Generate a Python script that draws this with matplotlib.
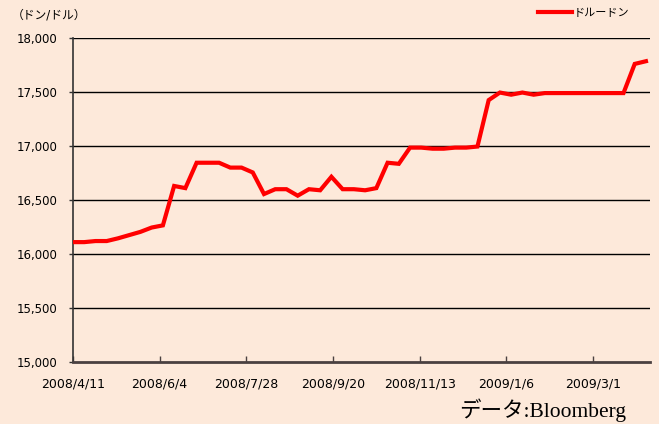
import matplotlib
matplotlib.use("Agg")
import matplotlib.pyplot as plt
import numpy as np
import datetime as dt

plt.rcParams['font.family'] = ['DejaVu Sans', 'Noto Sans CJK JP']

# weekly VND/USD rate from 2008/4/11
start = dt.date(2008, 4, 11)
rates = [16110, 16110, 16120, 16120, 16145, 16175, 16205, 16245, 16265, 16630,
         16610, 16845, 16845, 16845, 16800, 16800, 16755, 16555, 16600, 16600,
         16540, 16600, 16590, 16715, 16600, 16600, 16590, 16610, 16845, 16835,
         16985, 16985, 16975, 16975, 16985, 16985, 16995, 17425, 17495, 17475,
         17495, 17475, 17490, 17490, 17490, 17490, 17490, 17490, 17490, 17490,
         17760, 17785]
tick_dates = [dt.date(2008, 4, 11), dt.date(2008, 6, 4), dt.date(2008, 7, 28),
              dt.date(2008, 9, 20), dt.date(2008, 11, 13), dt.date(2009, 1, 6),
              dt.date(2009, 3, 1)]
y_ticks = [15000, 15500, 16000, 16500, 17000, 17500, 18000]

bg = '#FDE9DA'
days = np.arange(len(rates)) * 7
tick_pos = [(d - start).days for d in tick_dates]
tick_lab = [f"{d.year}/{d.month}/{d.day}" for d in tick_dates]

fig = plt.figure(figsize=(6.59, 4.24), dpi=100, facecolor=bg)
ax = fig.add_axes([0.1108, 0.1462, 0.8755, 0.7642], facecolor=bg)

for y in y_ticks[1:]:
    ax.axhline(y, color='black', linewidth=1.0, zorder=1)

ax.plot(days, rates, color='#FF0000', linewidth=3.0, solid_joinstyle='miter', zorder=3)

ax.set_xlim(0, 359.5)
ax.set_ylim(15000, 18000)
ax.set_yticks(y_ticks)
ax.set_yticklabels([f"{v:,}" for v in y_ticks], fontsize=8.5)
ax.set_xticks(tick_pos)
ax.set_xticklabels(tick_lab, fontsize=9)

for s in ['top', 'right']:
    ax.spines[s].set_visible(False)
ax.spines['left'].set_color('#333333')
ax.spines['left'].set_linewidth(1.2)
ax.spines['bottom'].set_color('#4a4040')
ax.spines['bottom'].set_linewidth(2.0)
ax.tick_params(axis='x', direction='in', length=4, width=1, color='#4a4040', pad=11)
ax.tick_params(axis='y', direction='out', length=3, width=1, color='#333333', pad=8)

fig.text(0.018, 0.965, '（ドン/ドル）', fontsize=8.5, ha='left', va='center')

# legend
fig.add_artist(plt.Line2D([538 / 659, 572 / 659], [1 - 12 / 424] * 2,
                          color='#FF0000', linewidth=3.0, transform=fig.transFigure))
fig.text(574 / 659, 1 - 13 / 424, 'ドルードン', fontsize=8, ha='left', va='center')

fig.text(459 / 659, 1 - 410 / 424, 'データ:Bloomberg', fontsize=15.5,
         family=['Liberation Serif', 'Noto Sans CJK JP'], ha='left', va='center')

fig.savefig('out.png', dpi=100, facecolor=bg)
